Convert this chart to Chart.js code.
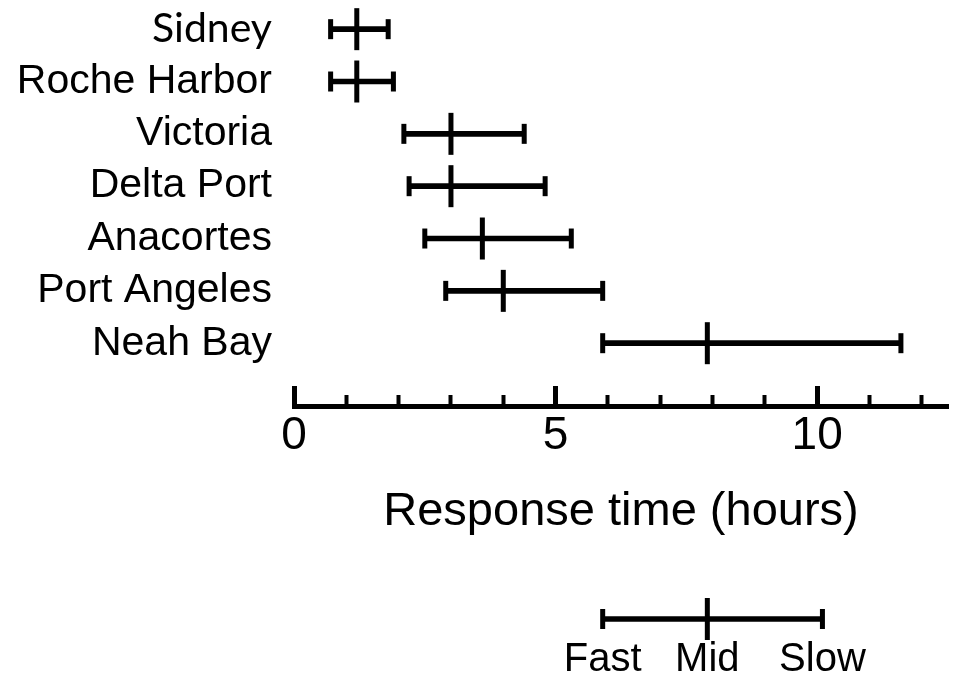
<!DOCTYPE html>
<html>
<head>
<meta charset="utf-8">
<script src="https://cdn.jsdelivr.net/npm/chart.js@4.4.0/dist/chart.umd.min.js"></script>
<style>
  html, body { margin: 0; padding: 0; background: #fff; }
  canvas { display: block; }
</style>
</head>
<body>
<canvas id="mainChart" width="957" height="560"></canvas>
<canvas id="keyChart" width="957" height="118"></canvas>
<script>
    // Response time per port, hours
    const ports = ['Sidney', 'Roche Harbor', 'Victoria', 'Delta Port', 'Anacortes', 'Port Angeles', 'Neah Bay'];
    const fastTimes = [0.7, 0.7, 2.1, 2.2, 2.5, 2.9, 5.9];
    const midTimes = [1.2, 1.2, 3.0, 3.0, 3.6, 4.0, 7.9];
    const slowTimes = [1.8, 1.9, 4.4, 4.8, 5.3, 5.9, 11.6];
    const xTickValues = [0, 5, 10];

    // Key under the chart
    const keyLabels = ['Fast', 'Mid', 'Slow'];
    const keyValues = [5.9, 7.9, 10.1];

    Chart.defaults.color = '#000';
    Chart.defaults.font.family = "'Liberation Sans', Arial, Helvetica, sans-serif";

    // vertical tick marks (caps and mid marks) drawn as rotated 'line' points
    function markDataset(values, ys, radius) {
      return {
        type: 'line',
        data: values.map((v, i) => ({ x: v, y: ys[i] })),
        showLine: false,
        pointStyle: 'line',
        pointRotation: 90,
        pointRadius: radius,
        pointHoverRadius: radius,
        pointBorderWidth: 5,
        pointBorderColor: '#000',
        borderColor: '#000',
        clip: false
      };
    }

    const rows = ports.map((p, i) => i);

    new Chart(document.getElementById('mainChart'), {
      type: 'bar',
      data: {
        datasets: [
          {
            data: rows.map(i => ({ y: i, x: [fastTimes[i], slowTimes[i]] })),
            backgroundColor: '#000',
            borderWidth: 0,
            barThickness: 5
          },
          markDataset(fastTimes, rows, 10),
          markDataset(midTimes, rows, 21),
          markDataset(slowTimes, rows, 10)
        ]
      },
      options: {
        indexAxis: 'y',
        responsive: false,
        animation: false,
        events: [],
        layout: { autoPadding: false, padding: { left: 0, right: 9, top: 3, bottom: 0 } },
        plugins: { legend: { display: false }, tooltip: { enabled: false } },
        scales: {
          y: {
            type: 'linear',
            reverse: true,
            offset: false,
            min: -0.5,
            max: 7.2,
            grid: { display: false, drawTicks: false, offset: false },
            border: { display: false },
            afterBuildTicks: (scale) => { scale.ticks = rows.map(i => ({ value: i })); },
            afterFit: (scale) => { scale.width = 294; scale.paddingTop = 0; scale.paddingBottom = 0; },
            ticks: {
              padding: 22,
              autoSkip: false,
              callback: (v) => ports[v],
              font: (ctx) => ctx.index === 0 ? { family: 'Lato', size: 41 } : { size: 41 }
            }
          },
          // minor ticks, one per hour; zero height so it sits on the main axis line
          xMinor: {
            type: 'linear',
            axis: 'x',
            position: 'bottom',
            weight: -1,
            min: 0,
            max: 12.5,
            ticks: { display: false, stepSize: 1, includeBounds: false },
            grid: { drawOnChartArea: false, tickLength: -11, tickWidth: 4, tickColor: '#000' },
            border: { display: false },
            afterFit: (scale) => { scale.height = 0; scale.paddingLeft = 0; scale.paddingRight = 0; }
          },
          x: {
            type: 'linear',
            position: 'bottom',
            weight: 0,
            min: 0,
            max: 12.5,
            afterBuildTicks: (scale) => { scale.ticks = xTickValues.map(v => ({ value: v })); },
            afterFit: (scale) => { scale.height = 154; scale.paddingLeft = 0; scale.paddingRight = 0; },
            ticks: { padding: 23, maxRotation: 0, autoSkip: false, font: { size: 46 } },
            grid: { drawOnChartArea: false, tickLength: -20, tickWidth: 5, tickColor: '#000' },
            border: { display: true, color: '#000', width: 5 },
            title: {
              display: true,
              text: 'Response time (hours)',
              font: { size: 47 },
              padding: { top: 0, bottom: 20 }
            }
          }
        }
      }
    });

    // Fast / Mid / Slow key
    new Chart(document.getElementById('keyChart'), {
      type: 'bar',
      data: {
        datasets: [
          {
            data: [{ y: 0, x: [keyValues[0], keyValues[2]] }],
            backgroundColor: '#000',
            borderWidth: 0,
            barThickness: 5
          },
          markDataset([keyValues[0], keyValues[2]], [0, 0], 10),
          markDataset([keyValues[1]], [0], 21)
        ]
      },
      options: {
        indexAxis: 'y',
        responsive: false,
        animation: false,
        events: [],
        layout: { autoPadding: false, padding: { left: 294, right: 9, top: 38, bottom: 0 } },
        plugins: { legend: { display: false }, tooltip: { enabled: false } },
        scales: {
          x: {
            type: 'linear',
            min: 0,
            max: 12.5,
            afterBuildTicks: (scale) => { scale.ticks = keyValues.map(v => ({ value: v })); },
            afterFit: (scale) => { scale.height = 38; scale.paddingLeft = 0; scale.paddingRight = 0; },
            ticks: {
              padding: -4,
              maxRotation: 0,
              autoSkip: false,
              callback: (v, i) => keyLabels[i],
              font: { size: 40 }
            },
            grid: { display: false, drawTicks: false },
            border: { display: false }
          },
          y: { type: 'linear', offset: false, min: -1, max: 1, display: false }
        }
      }
    });
</script>
</body>
</html>
